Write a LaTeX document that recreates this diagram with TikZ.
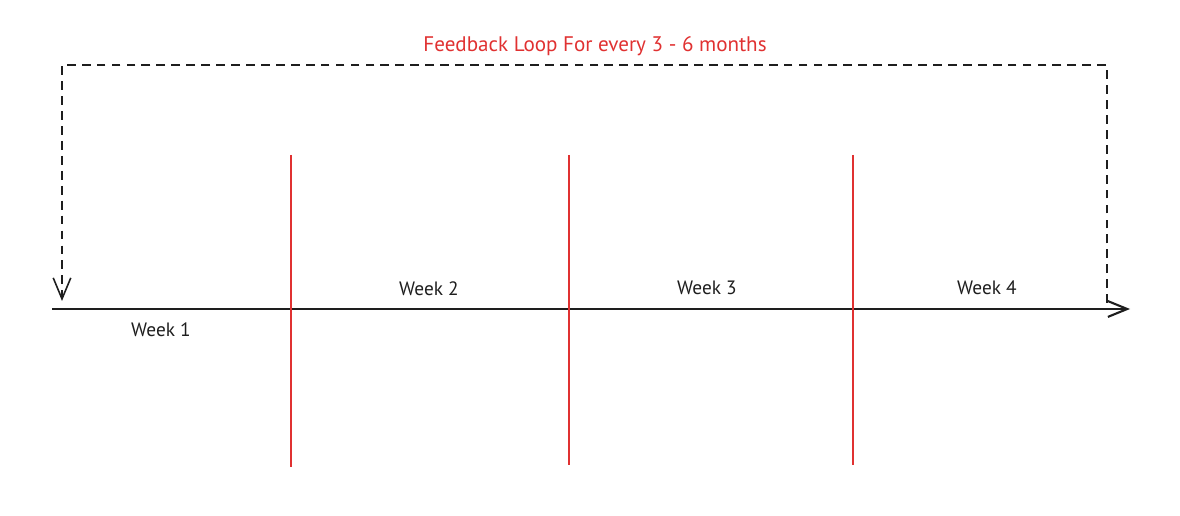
\documentclass[tikz,border=0pt]{standalone}
\usepackage{fontspec}
\setmainfont{PT Sans}
\usetikzlibrary{arrows.meta, positioning}
\definecolor{xred}{HTML}{E03131}
\definecolor{xblack}{HTML}{1E1E1E}
\tikzstyle{week} = [text=xblack, font=\fontsize{11}{13}\selectfont, inner sep=1pt]
\tikzstyle{title} = [text=xred, font=\fontsize{12}{14}\selectfont, inner sep=1pt]
\tikzstyle{axis} = [draw=xblack, line width=1.2pt, -{Straight Barb[length=11pt, width=9pt]}]
\tikzstyle{divider} = [draw=xred, line width=1.3pt]
\tikzstyle{loop} = [draw=xblack, line width=0.9pt, dash pattern=on 5pt off 3.5pt, -{Straight Barb[length=12pt, width=10pt]}]

\begin{document}
\begin{tikzpicture}[x=0.02cm, y=-0.02cm]
\useasboundingbox (0,0) rectangle (1180,516);

%% timeline
\coordinate (axisL) at (52,309);
\coordinate (axisR) at (1130,309);
\draw [axis] (axisL) -- (axisR);

%% week dividers
\coordinate (div1t) at (291,155);
\coordinate (div1b) at (291,467);
\coordinate (div2t) at (569,155);
\coordinate (div2b) at (569,465);
\coordinate (div3t) at (853,155);
\coordinate (div3b) at (853,465);
\draw [divider] (div1t) -- (div1b);
\draw [divider] (div2t) -- (div2b);
\draw [divider] (div3t) -- (div3b);

%% labels
\node (wk1) [week] at (161,330) {Week 1};
\node (wk2) [week] at (429,289) {Week 2};
\node (wk3) [week] at (707,288) {Week 3};
\node (wk4) [week] at (987,288) {Week 4};

%% feedback loop
\coordinate (loopS) at (1107,303);
\coordinate (loopE) at (62,301);
\draw [loop] (loopS) |- (62,65) -- (loopE);
\node (fb) [title] at (595,46) {Feedback Loop For every 3 - 6 months};

\end{tikzpicture}
\end{document}
